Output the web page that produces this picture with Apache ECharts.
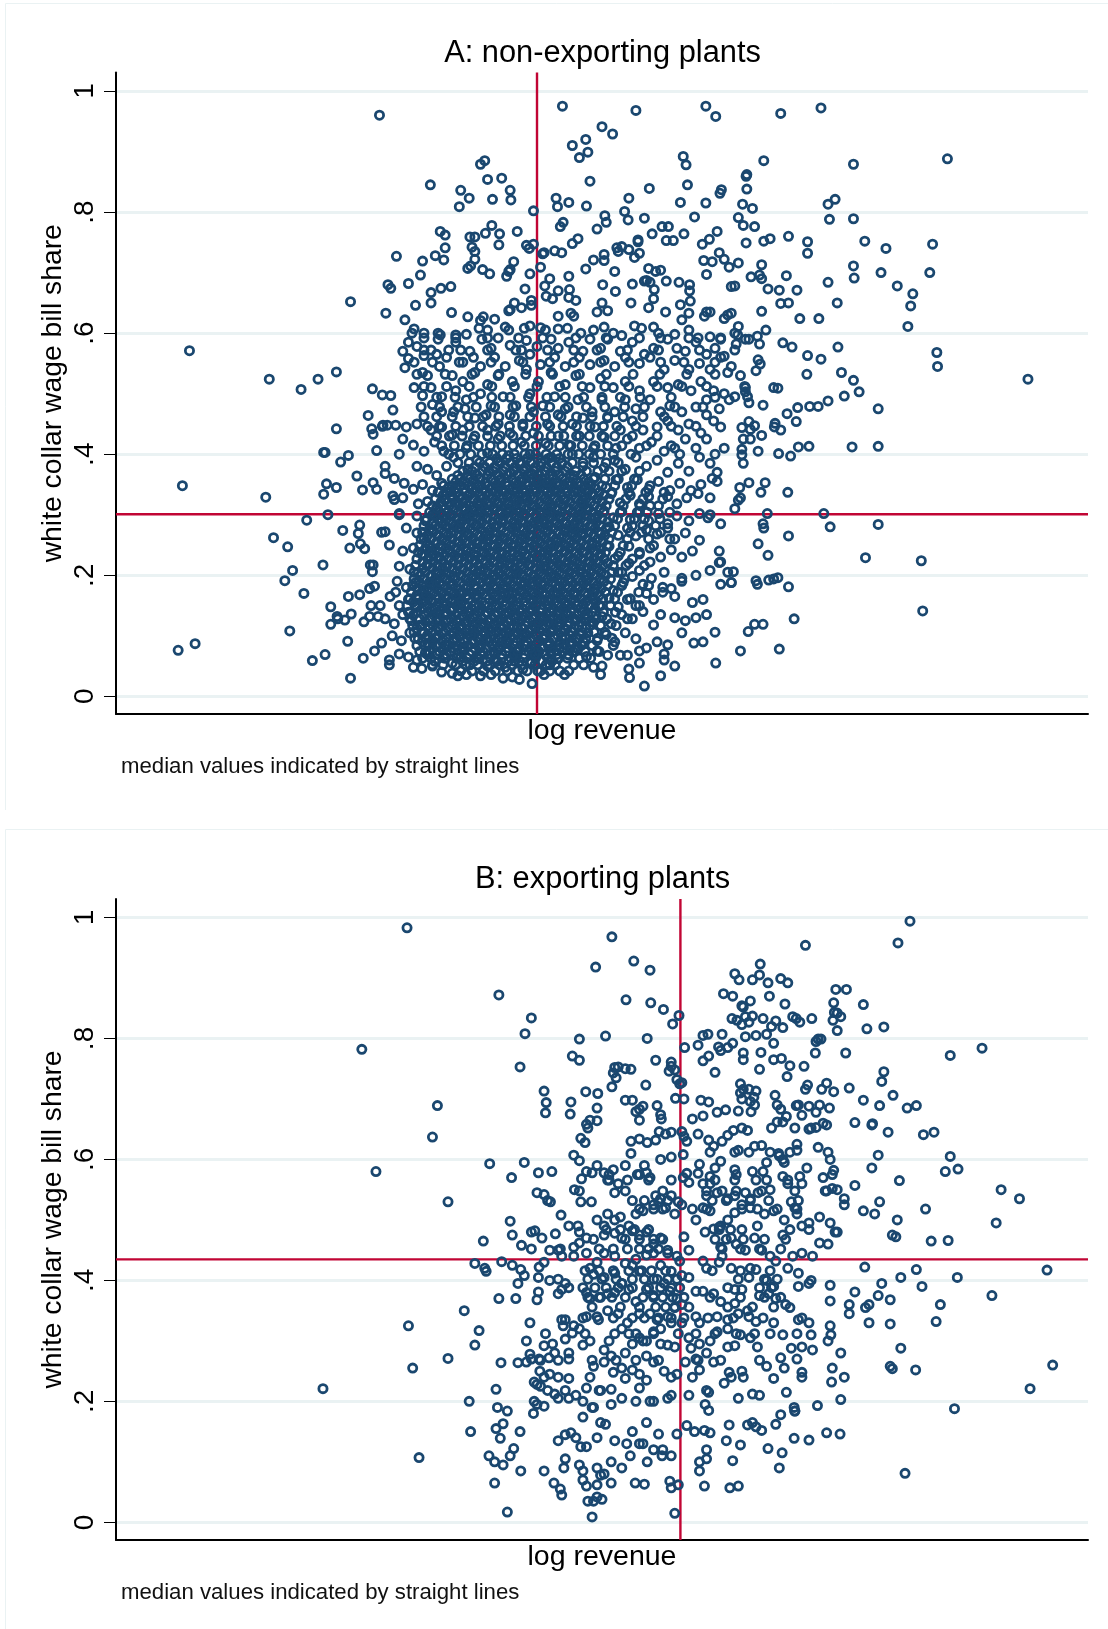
<!DOCTYPE html>
<html><head><meta charset="utf-8">
<script src="https://cdn.jsdelivr.net/npm/echarts@6/dist/echarts.min.js"></script>
<style>html,body{margin:0;padding:0;background:#fff}#c{width:1108px;height:1629px}</style></head>
<body><div id="c"></div>
<script>
// pairs: log revenue x100, white collar share x1000
const plantsA=[
537,960,796,975,900,968,999,975,1013,958,1105,963,1162,972,852,941,867,929,829,920,810,910,832,899,820,890,967,892,971,878,1081,885,1208,879,1341,888,
680,879,686,885,690,854,710,856,835,851,609,845,652,836,664,823,722,836,723,820,697,821,650,809,787,823,789,809,805,816,830,810,755,802,919,839,890,823,973,845,1021,837,1019,831,1057,862,1056,859,1057,838,963,816,999,815,1051,813,1065,806,1172,813,1182,821,884,801,856,794,858,783,889,787,912,790,983,792,1045,791,1052,778,1068,776,1174,788,1208,789,
623,768,630,762,665,759,672,759,687,765,696,778,707,764,732,768,797,783,793,776,845,772,923,764,937,776,946,776,968,764,1015,768,1004,755,943,753,953,753,903,754,903,751,1081,752,1090,756,1116,760,1143,751,1224,752,1254,740,1320,747,1143,732,561,727,630,741,668,742,672,735,706,746,745,745,749,740,755,747,810,748,818,756,875,735,873,741,880,743,890,738,994,747,1056,749,
598,719,616,728,628,721,672,722,727,718,768,731,770,733,785,736,795,733,840,721,855,730,855,720,898,725,905,732,829,706,1018,733,1025,722,1045,716,1032,709,996,720,1008,718,1078,713,1208,711,1247,700,1316,700,1209,691,662,707,666,711,683,705,693,698,720,702,722,705,717,694,765,709,778,690,805,694,750,698,595,696,870,702,918,707,928,702,935,704,1000,697,1075,696,1063,693,1078,690,1113,695,1172,684,1270,678,
578,682,549,680,553,674,610,667,624,674,638,677,743,673,771,678,790,670,806,672,853,680,871,669,895,681,915,687,920,684,912,686,926,672,943,686,961,684,976,680,976,670,1035,677,1040,678,1087,673,1103,671,1128,671,1292,665,1289,645,1185,650,1105,649,1116,650,1078,636,
496,652,546,633,610,650,588,646,639,634,573,622,662,627,680,621,684,627,700,623,722,639,728,650,720,637,738,642,752,654,752,646,773,661,782,657,805,659,815,654,790,628,808,633,812,628,845,635,852,650,860,637,893,650,925,657,918,642,942,635,963,647,975,633,977,653,965,622,1000,635,1005,635,997,628,1025,624,1030,630,1035,633,1045,611,1132,624,1159,624,1285,611,
586,607,583,600,600,600,620,600,623,597,645,597,660,598,678,608,690,605,715,610,720,605,742,608,750,612,765,609,772,605,790,607,803,608,822,600,840,605,855,610,868,600,880,596,898,612,908,608,925,610,932,600,955,598,975,605,988,592,1005,594,1020,590,1040,600,1044,597,1055,590,
578,585,590,578,600,572,620,590,635,572,645,585,665,570,682,590,695,575,705,592,722,580,730,572,745,588,760,578,780,590,790,575,805,585,825,570,835,590,850,575,860,590,878,570,895,585,912,565,925,575,945,590,958,575,970,570,985,585,1000,565,1012,575,1025,562,1042,582,1060,590,
570,570,578,558,600,563,618,565,632,560,650,552,670,560,680,545,700,560,715,545,735,555,750,565,765,548,785,560,800,545,820,560,835,548,855,555,870,545,885,560,905,550,920,560,940,540,955,555,975,540,990,550,1005,540,1020,560,1035,545,1048,530,1030,535,
573,543,598,535,605,530,622,545,640,530,655,520,672,535,690,515,705,530,725,520,745,540,762,520,780,535,800,515,815,530,835,510,850,525,868,510,885,520,905,505,925,520,945,510,960,515,978,505,992,520,1010,505,1025,500,1040,495,1055,510,1060,485,1058,495,
586,510,598,497,610,510,625,495,645,505,660,490,680,500,695,480,712,495,730,480,750,500,768,480,785,495,800,475,818,490,838,470,852,490,870,470,885,490,900,475,920,490,935,470,948,480,965,470,985,478,1000,490,1018,475,1032,490,
612,482,625,470,642,470,658,475,672,460,688,465,705,450,722,465,740,450,755,470,775,450,790,465,810,450,825,460,842,445,860,460,878,440,895,455,910,440,930,445,945,455,960,440,975,450,992,435,1010,455,1000,465,1020,445,
560,448,575,445,590,450,610,440,625,445,640,432,655,440,670,425,690,440,705,425,722,435,738,420,755,435,772,418,790,430,805,415,820,430,840,410,855,428,872,410,888,425,905,410,922,420,940,405,955,410,970,425,985,410,1000,425,1012,400,1025,410,548,448,542,448,
570,425,585,415,600,405,615,420,628,405,642,395,660,410,675,390,690,402,705,388,720,398,735,385,750,400,765,380,780,395,795,385,810,400,825,380,840,395,855,378,870,390,885,375,900,395,915,380,930,390,945,370,960,385,975,372,990,395,1005,385,1015,370,
565,400,590,380,605,375,618,365,632,380,648,365,662,375,678,360,692,372,708,358,722,370,738,355,752,368,768,352,782,365,798,350,812,365,828,348,842,362,858,345,872,358,888,345,902,358,918,342,932,355,948,340,962,352,978,340,992,350,1008,360,1015,355,
545,368,558,360,572,352,585,342,598,350,612,340,625,352,638,338,652,348,665,335,678,348,692,332,705,345,718,330,732,342,745,328,758,342,772,328,785,340,798,325,812,338,825,324,838,335,852,322,865,335,878,320,892,332,905,318,918,330,932,315,945,330,958,318,972,328,988,335,1005,328,
558,325,570,328,592,318,605,322,618,312,630,324,642,310,655,320,668,308,680,320,692,305,705,318,718,304,730,316,742,302,755,315,768,300,780,312,792,298,805,310,818,296,830,308,842,295,855,306,868,295,880,305,892,292,905,305,918,290,932,302,945,285,958,298,975,290,990,302,1002,295,1020,285,1005,300,
565,300,590,298,602,290,612,300,625,288,638,298,650,285,662,296,675,283,688,294,700,280,712,292,725,278,738,290,750,276,762,288,775,274,788,286,800,272,812,284,825,270,838,282,850,268,862,280,875,266,888,278,900,265,915,275,930,268,945,278,955,260,970,270,
575,278,590,270,600,262,612,275,625,258,638,270,650,255,662,268,675,252,688,265,700,250,712,262,725,248,738,260,750,245,762,258,775,242,788,255,800,240,812,252,825,238,838,250,850,235,862,248,875,232,890,248,905,235,920,245,935,230,950,242,965,230,980,240,990,258,1018,240,
570,240,585,245,597,235,610,245,622,230,635,242,648,228,660,240,672,225,685,238,698,222,710,235,722,220,735,232,748,218,760,230,772,215,785,228,798,212,810,225,822,210,835,222,848,208,860,220,875,205,890,220,905,208,920,222,940,205,965,195,1005,208,1020,222,
565,215,580,210,592,205,605,218,618,202,630,214,642,198,655,210,668,195,680,208,692,192,705,205,718,190,730,202,742,188,755,200,768,185,780,198,792,182,805,195,818,180,830,192,842,178,855,190,868,175,882,188,895,198,910,185,922,195,938,180,950,178,965,190,985,200,1020,185,1035,188,
562,190,575,180,588,188,600,175,612,186,625,172,638,184,650,170,662,182,675,168,688,180,700,165,712,178,725,162,738,175,750,160,762,172,775,158,788,170,800,155,812,168,825,152,838,165,850,150,862,162,875,148,888,160,900,150,915,170,925,160,938,172,955,165,980,155,995,160,
552,165,565,150,578,160,590,148,602,158,615,145,628,155,640,142,652,152,665,140,678,150,690,138,702,148,715,135,728,145,740,132,752,142,765,130,778,140,790,128,802,138,815,125,828,135,840,122,852,132,865,120,880,135,895,128,910,140,925,118,935,135,955,130,970,125,985,130,1000,135,
545,128,558,120,570,135,582,125,595,118,608,128,620,115,632,125,645,112,658,122,670,110,682,120,695,107,708,117,720,105,732,115,745,102,758,112,770,100,782,110,795,98,808,108,820,95,832,105,845,92,858,102,870,90,885,105,900,95,915,80,930,90,945,85,965,105,982,88,995,90,
555,100,568,92,580,105,592,95,605,88,618,98,630,85,642,95,655,82,668,92,680,80,692,90,705,78,718,88,730,75,742,85,755,72,768,82,780,70,792,80,805,68,818,78,830,66,845,75,860,68,878,68,888,68,905,75,940,70,955,50,
565,70,578,65,590,60,602,72,615,58,628,68,640,55,652,65,665,52,678,62,690,50,702,60,715,48,728,58,740,45,752,55,765,42,778,52,790,62,805,42,840,48,852,50,
585,48,597,46,612,50,625,40,640,38,648,34,660,36,680,34,695,36,712,30,725,32,735,28,753,21,770,36,799,36,891,31,850,36,935,34,912,17,905,55,890,45,940,60,
1326,568,1327,545,1455,524,1108,584,1121,577,1143,563,1162,557,1186,577,1142,532,1191,535,1208,522,1195,496,1216,503,1172,488,1158,479,1146,479,1129,477,1243,475,1114,467,1080,481,1095,510,1101,509,1054,512,1055,503,1070,538,1073,556,1076,549,1075,582,1072,595,1084,605,1206,412,1243,413,1145,413,1130,412,1119,397,1102,401,1127,454,1097,451,1105,440,1096,445,1078,431,1060,454,1068,447,1062,441,1050,444,1052,425,1062,425,1073,405,1050,408,1050,399,1052,385,1060,353,1083,353,1047,345,1077,337,1115,337,1048,328,1045,324,1040,310,1086,302,1166,302,1175,280,1243,284,1080,285,1081,278,1116,265,1073,252,1087,233,1225,229,1304,224,1306,141,1124,128,1116,181,1070,191,1072,185,1088,192,1095,194,1101,196,1059,107,1068,119,1080,119,1103,78,1048,75,1013,55,1012,106,1018,221,1030,205,1038,206,1035,188,
268,571,381,524,426,507,450,524,476,536,527,508,541,498,553,497,521,464,556,473,476,442,526,442,528,433,541,446,458,403,460,403,493,398,482,387,533,406,545,380,505,364,462,351,476,345,528,353,513,341,533,342,458,334,258,348,376,329,556,331,434,291,464,300,565,302,485,274,509,283,507,269,387,262,407,247,495,245,510,252,516,244,540,271,545,272,551,250,457,217,414,208,403,191,524,217,528,217,527,206,430,170,468,148,493,165,509,168,523,178,530,182,525,150,538,150,560,172,477,132,468,119,478,128,488,126,497,136,515,123,523,132,535,132,410,108,252,76,276,87,492,91,442,59,460,69,496,30,514,63,530,75,540,88,551,52,551,60,
640,330,660,300,700,310,730,280,770,290,800,285,745,330,710,220,740,240,770,210,690,190,720,170,760,190,790,170,670,130,700,120,730,130,760,120,790,140,650,100,680,95,710,90,740,100,770,95,800,110,640,210,660,240,650,280,690,260,720,310,750,265,780,250,810,270,640,160,830,200,840,240,820,300,760,360,780,345,740,375,710,340,680,310,700,200,730,210,760,160,780,120,700,70,730,65,760,75,800,85,620,130,615,190,610,240,
];
// extra marks of panel A in the solid and busy parts, one row per share x1000: [share, revenue x100 ...]
const rowsA=[
[42,652,668,684,701,718,733,746,761,778,792],
[52,612,627,645,659,676,693,707,724,739,757,773,786,812,826],
[63,598,610,629,646,661,675,694,710,723,741,758,775,789,803,820,836],
[74,594,608,622,637,653,668,684,699,716,733,748,763,779,796,811,828,848],
[84,590,606,619,635,648,663,679,697,711,727,744,758,776,790,807,823,838,868],
[96,587,602,616,631,646,661,676,689,706,722,737,751,768,784,800,815,829,846,866],
[106,586,600,612,628,642,658,672,687,702,716,733,749,763,779,794,810,824,841,856],
[117,584,597,613,626,640,653,669,684,699,713,727,743,757,773,789,803,819,835,850,872],
[128,580,594,608,622,638,651,665,681,695,710,723,738,754,769,783,798,813,829,844,859,888],
[139,578,591,606,619,632,648,662,677,690,705,720,735,749,764,779,793,808,824,838,854,871],
[150,576,589,604,618,631,646,659,672,686,701,716,731,745,759,775,790,804,818,834,848,864,905],
[161,580,592,606,621,634,649,663,676,692,706,720,734,750,765,779,794,808,823,839,853,870,892],
[172,582,597,610,624,638,653,667,680,695,709,725,739,753,768,783,797,812,827,841,857,874,904],
[183,584,598,613,627,641,656,671,684,698,713,727,742,756,771,786,800,815,830,845,860,880,918],
[194,586,600,616,630,644,659,673,688,702,716,731,745,760,775,789,804,818,833,849,864,884],
[205,586,602,617,632,646,661,676,690,705,719,733,748,763,777,792,806,821,836,851,866,880],
[216,588,604,619,633,648,663,677,692,707,721,736,750,765,780,794,809,823,838,853,868,886,912],
[227,590,606,620,635,650,664,679,694,708,723,737,752,767,781,796,811,825,840,855,870,895],
[238,592,607,622,637,651,666,681,695,710,725,739,754,769,783,798,813,827,842,857,878,905],
[249,594,608,624,638,653,668,682,697,712,727,741,756,770,785,800,815,829,844,859,882,925],
[260,596,610,626,640,655,669,684,699,714,728,743,758,772,787,802,816,831,846,862,888,918,948],
[271,598,613,628,642,657,671,686,701,716,730,745,760,774,789,804,818,833,848,866,892,908,935],
[282,600,616,630,644,659,673,688,703,718,732,747,762,776,791,806,820,835,850,870,895,910,928],
[293,604,619,632,646,661,675,690,705,720,734,749,764,778,793,808,822,837,852,874,898,912,934],
[304,608,622,634,648,663,677,692,707,722,736,751,766,780,795,810,824,839,854,878,902,916,948],
[315,612,626,636,650,665,680,694,709,724,738,753,768,782,797,812,826,841,858,882,906,920],
[326,616,629,640,654,669,683,697,712,727,741,756,771,785,800,815,829,845,862,886,910,938],
[337,620,632,645,658,672,687,701,715,730,744,759,774,788,803,818,832,848,866,890,914,940],
[348,628,640,651,663,676,691,705,719,734,748,763,778,792,807,822,836,852,870,894,920],
[359,640,651,665,680,695,709,724,738,752,767,782,796,811,826,840,856,875,898],
[372,655,668,683,698,712,727,742,756,771,786,800,815,830,846,862,880,905],
[386,648,664,679,693,708,722,737,751,766,780,795,810,825,840,858,875],
[400,635,651,666,682,697,711,728,743,758,773,788,804,819,834,850,868,893,962],
[414,625,643,661,677,694,710,726,742,759,776,792,808,824,842,860,880,915,950],
[430,618,636,654,672,690,708,726,744,762,780,798,816,834,852,870,895,930],
[446,605,622,645,664,683,702,721,740,759,778,797,816,835,854,873,900,950,985],
[462,600,618,640,662,684,706,728,750,772,794,816,838,860,882,910,940],
[478,596,622,648,674,700,726,752,778,804,830,856,884,912,955,995],
[494,618,644,670,696,722,748,774,800,826,852,878,906,950,1012],
[512,600,632,664,696,728,760,792,824,856,890,930,965,1000],
[532,590,630,668,706,744,782,820,858,896,934,972,1012],
[552,586,612,655,695,740,778,812,850,890,935,968,1012],
[572,610,652,690,738,775,812,845,888,932,990,1040],
[592,600,645,690,734,768,815,858,905,935,975,1020],
[58,655,671,689,704,720,735,751,767,781],
[69,605,617,632,648,664,680,694,710,727,742,757,772,788,804],
[80,612,628,642,657,672,688,705,719,735,751,766,782,798,815],
[90,598,612,626,642,657,670,684,701,716,731,746,762,777,792,808,826],
[101,605,621,637,653,667,682,696,712,727,743,758,772,789,806,821],
[112,590,607,620,634,650,664,678,693,708,722,738,752,767,783,798,813,829],
[123,602,618,632,646,660,675,690,704,718,733,747,762,776,792,806,822,837],
[134,585,600,614,628,644,656,671,686,700,714,728,744,758,773,788,802,818,832],
[145,597,611,626,639,653,667,681,695,710,724,739,753,767,783,797,811,826,842],
[156,585,598,612,627,640,654,668,682,698,712,726,741,755,770,785,799,814,829,843],
[167,590,603,617,631,645,660,673,688,701,715,730,745,759,773,788,803,817,832,848],
[178,591,605,619,633,647,661,675,689,703,718,733,747,762,776,791,805,820,835,851],
[189,593,608,622,636,651,665,679,694,708,722,737,752,766,781,795,809,825,840],
[200,595,610,624,638,653,668,682,697,711,725,740,755,769,784,798,813,828,843,857],
[211,598,612,626,641,655,670,685,698,713,728,742,757,771,786,801,815,830,845],
[222,598,613,627,642,657,671,686,700,715,729,744,759,773,788,803,817,832,847],
[233,600,614,629,644,658,673,688,702,717,732,746,761,775,790,805,819,834,849],
[244,602,616,631,645,660,675,689,704,719,733,748,762,777,792,806,821,836,851],
[255,603,618,632,647,662,676,691,706,720,735,750,765,779,794,808,823,838,853],
[266,605,620,634,649,664,678,693,708,723,737,752,767,781,796,811,825,840,856],
[277,608,622,636,651,666,680,695,710,725,739,754,769,783,798,813,827,842,858],
[288,612,624,638,653,668,682,697,712,727,741,756,771,785,800,815,829,844,860],
[299,615,627,640,655,670,684,699,714,729,743,758,773,787,802,817,831,846],
[310,619,630,643,657,672,687,701,716,731,745,760,775,789,804,819,833,849],
[321,624,634,647,660,676,690,704,719,733,748,763,777,792,807,822,836,852],
[332,627,638,650,664,679,693,707,722,736,751,766,780,795,810,825,840,855],
[343,634,646,657,669,683,697,711,726,740,755,770,784,799,814,829,843],
[354,645,658,672,687,701,716,730,745,760,774,789,804,818,833],
[366,662,675,690,705,719,734,749,763,778,792,807,822],
[379,672,686,700,715,729,744,758,773,788,803],
[393,703,717,731,746,761,776,792],
];
const plantsB=[
576,983,866,968,1288,994,1271,958,1140,954,897,928,843,918,920,913,1076,923,1040,907,1046,897,1075,905,1065,897,1087,892,1105,899,1115,892,706,872,886,864,921,859,939,848,1024,874,1037,870,1062,862,1089,870,1050,854,1052,852,1111,857,1183,881,1198,881,1180,859,1222,856,752,834,961,838,952,824,1036,833,1055,836,1065,837,1043,830,1050,823,1060,827,1080,833,1098,829,1092,820,1108,818,1122,836,1127,833,1132,827,1149,833,1185,842,1181,843,1190,836,1179,830,1185,813,1227,816,1251,819,743,808,857,804,916,800,820,799,995,805,1002,807,1022,807,1037,792,1030,785,1017,786,1020,780,988,789,1055,803,1070,805,1085,807,1095,792,1158,799,1162,799,1155,795,1154,776,1197,776,969,785,
810,771,820,764,736,753,928,764,950,761,950,754,947,746,955,748,1003,771,995,763,1012,744,1052,776,1052,765,1077,777,1095,765,1106,767,1075,749,1118,755,1138,754,1114,737,1251,745,1248,729,1345,772,1390,784,512,782,
870,752,868,743,875,753,885,750,893,749,872,735,866,720,914,723,958,732,962,725,965,727,1048,725,1052,716,1048,710,1060,716,1070,713,1067,703,1050,700,1062,696,1097,706,1143,723,1140,716,1163,716,1170,726,1180,712,1202,718,1222,698,1245,689,1264,706,1284,685,1297,689,
770,713,773,694,772,677,808,695,807,675,829,712,846,709,845,685,885,698,895,698,900,679,905,683,910,688,930,689,935,674,936,667,905,665,956,701,968,700,992,698,1003,695,980,667,995,672,1015,678,1027,682,1045,680,1063,679,1105,683,1127,689,1145,688,1135,673,1113,671,1108,662,1100,662,1155,678,1170,657,1174,685,619,689,612,637,1210,661,1235,659,1234,657,1257,645,1307,641,1322,645,
835,665,830,658,845,664,832,652,822,635,828,628,893,630,905,634,916,628,928,632,933,646,942,642,950,645,965,646,968,638,972,630,988,642,1003,632,1010,622,1022,630,1030,640,1038,648,1058,648,1045,615,1068,622,1078,623,1102,610,1108,600,1128,625,1128,615,1145,650,1155,653,1165,660,1158,620,1172,612,1175,600,1243,607,1345,605,
693,593,742,595,812,607,820,598,830,580,845,590,838,578,855,578,868,583,862,575,885,590,893,610,912,590,905,575,915,578,935,600,950,604,967,608,972,577,990,592,988,577,1005,572,1012,586,1020,597,1040,583,1042,575,1065,580,1080,580,1085,595,1103,606,1110,595,1108,572,1132,572,1142,586,1165,570,1178,575,1180,582,1234,586,1338,580,1356,584,
724,570,762,578,781,580,532,580,634,530,760,545,770,542,775,532,779,530,813,550,820,548,822,530,837,530,823,568,862,566,875,560,870,545,885,548,902,575,920,570,928,540,935,535,950,540,960,530,967,570,975,562,995,560,1005,560,1000,540,1015,545,1030,535,1040,540,1055,545,1062,535,1073,545,1090,550,1115,560,1120,530,1135,560,1170,548,1178,552,1185,550,1195,535,1210,557,1273,565,1417,550,1443,535,1310,518,
794,508,805,490,818,490,820,480,830,470,845,500,855,490,860,510,870,500,878,505,890,490,900,510,910,515,925,525,932,530,942,520,955,510,965,525,980,518,985,500,995,520,1005,515,1020,490,1030,500,1040,512,1050,525,1062,520,1072,490,1082,510,1095,515,1110,500,1125,520,1128,510,1135,490,1145,495,1160,505,1175,495,1185,480,1195,525,1222,515,1238,510,1245,530,1270,500,1410,495,
722,498,725,475,752,480,757,482,767,470,786,477,790,450,738,458,752,452,778,450,793,452,812,455,820,462,855,475,870,478,880,470,895,482,905,475,915,480,925,460,935,470,945,450,968,472,975,450,998,480,1010,485,1018,488,1020,455,1035,470,1042,460,1055,450,1068,470,1078,450,1090,440,1108,475,1122,440,1135,445,1150,440,1160,462,1172,460,1182,480,1263,475,1268,472,1318,465,1342,466,
684,465,672,428,686,420,688,415,710,431,725,425,737,418,742,408,763,422,770,430,795,440,812,440,830,445,845,430,855,445,870,440,885,428,900,435,915,442,925,445,945,445,958,440,962,432,995,432,1000,420,1018,430,1022,440,1035,420,1062,420,1070,418,1098,432,1115,420,1130,412,1148,400,1224,422,1248,395,1275,405,1297,418,1305,390,1355,405,1482,417,
733,395,762,405,778,400,790,402,800,395,805,388,835,420,840,410,855,405,870,412,880,395,895,425,905,415,925,402,935,425,950,415,965,408,975,405,1040,385,1050,385,1060,405,1085,400,1095,390,1130,390,1145,395,1175,392,1210,381,1230,360,
706,370,730,370,762,381,760,368,795,385,790,378,830,380,835,370,850,372,860,378,870,380,880,395,890,385,900,365,915,385,925,375,940,395,948,382,958,370,965,360,985,382,995,382,1010,378,1020,365,1040,362,1058,350,1075,375,1088,378,1098,370,1112,360,1118,355,1135,338,1175,366,1202,360,1225,355,1243,375,1260,368,1331,360,1404,375,
657,350,750,330,795,335,800,335,812,325,830,340,845,340,860,350,875,345,888,330,905,345,920,345,930,335,945,340,955,355,965,330,985,340,990,330,1015,340,1030,335,1045,345,1060,340,1070,332,1095,330,1130,335,1145,330,1175,325,1202,345,1230,330,1260,328,1325,332,
578,325,678,317,672,293,797,325,810,313,820,320,835,300,847,335,862,300,880,320,890,312,905,305,915,300,925,315,935,320,950,330,975,305,990,295,1005,300,1015,315,1030,320,1048,310,1062,305,1090,312,1108,310,1128,312,1148,310,1172,300,1176,310,
745,300,750,278,763,270,770,292,782,295,785,280,800,303,805,280,825,293,855,285,865,275,885,280,895,295,910,300,935,295,945,293,955,290,978,288,1000,280,1030,290,1040,292,1072,290,1105,272,1120,288,1135,290,1150,285,1190,280,1275,288,
584,255,634,271,709,264,733,264,745,265,752,270,777,272,805,270,840,258,855,265,880,255,895,252,915,275,925,265,940,250,958,245,970,265,985,270,990,252,1010,265,1032,248,1050,250,1085,258,1110,255,1128,270,1135,248,1178,255,1260,258,1263,254,1296,252,
764,250,770,240,778,245,790,240,805,238,835,240,850,218,868,248,885,238,905,245,915,235,950,240,980,240,1000,218,1025,230,1035,240,1052,240,1095,238,1135,240,1195,240,1177,232,1490,260,
457,221,702,220,756,232,760,228,765,225,775,218,785,212,800,218,815,210,830,222,848,218,865,220,905,222,925,200,945,205,975,210,1003,215,1045,205,1065,212,1075,210,1113,215,1190,203,1458,221,
664,200,704,190,718,184,756,200,760,195,770,192,790,205,805,205,825,200,840,190,865,195,880,205,900,200,920,200,950,210,998,195,1003,185,1157,193,1125,184,1105,178,1351,188,
755,180,825,174,838,190,850,165,857,162,895,150,915,165,932,146,958,146,972,160,983,150,997,152,1005,148,1032,161,1058,161,1065,165,1070,158,1078,152,1098,162,1124,190,1125,184,
666,150,702,155,712,163,708,139,736,150,790,135,800,145,808,148,815,140,822,125,830,125,845,140,870,135,887,130,905,130,910,130,938,120,950,110,1028,135,1048,128,1087,122,1107,115,1124,139,1145,136,1170,148,1189,146,
593,107,692,110,700,100,712,95,722,110,727,122,737,85,770,85,800,105,798,90,820,95,825,85,845,90,855,80,850,78,865,100,880,90,892,110,916,100,925,120,937,110,990,100,1000,105,1000,120,1037,102,990,85,1103,90,1281,81,
700,65,784,65,793,55,795,45,825,70,830,60,845,62,865,65,899,65,912,63,948,68,950,57,960,62,997,60,1033,57,1045,60,
718,17,832,35,840,35,852,38,845,42,838,9,955,15,
];
// extra marks of panel B in the busier parts: [share, revenue x100 ...]
const rowsB=[
[268,765,790,838,872,900,932,988,1020,1075],
[312,772,828,870,900,925,960,985,1012,1042,1068],
[338,825,868,895,912,932,950,968,1002,1038,1080],
[356,838,878,905,928,942,955,975,1030,1065,1095],
[372,832,848,866,885,910,925,938,952,968,1005,1048,1082,1105],
[388,825,842,858,875,895,918,935,950,962,1030,1075,1092],
[402,832,852,872,895,912,930,945,958,1045,1082,1100],
[416,828,848,868,890,908,922,942,1008,1048,1090],
[452,848,868,888,905,918,932,1022,1048,1075,1105],
[468,840,885,905,925,938,1012,1028,1052,1082,1112],
[484,858,878,898,918,1018,1034,1050,1118,1145],
[518,905,925,938,1000,1050,1072,1100,1128],
[532,895,912,945,1008,1028,1062,1088,1130],
[548,938,1000,1022,1042,1078,1125,1168],
[566,860,888,918,950,1012,1040,1070,1085,1115],
[612,1005,1040,1060,1090,1118],
[652,1050,1092,1125,1148],
[690,1068,1100,1130,1160],
];
const medianXA=[7.60], medianYA=[0.3007], medianXB=[9.63], medianYB=[0.4348];
const yTicks=[0,0.2,0.4,0.6,0.8,1];
const tickLabels=['0','.2','.4','.6','.8','1'];
const xRange=[1.64,15.40], yRange=[-0.0292,1.0306];
const titles=['A: non-exporting plants','B: exporting plants'];
const FONT='"Liberation Sans",Arial,sans-serif';
const NAVY='#1a476f', RED='#c10534', PALE='#eaf2f3';
function toPairs(flat,rows){const r=[];for(let i=0;i+1<flat.length;i+=2)r.push([flat[i]/100,flat[i+1]/1000]);
 rows.forEach(row=>{for(let j=1;j<row.length;j++)r.push([row[j]/100,row[0]/1000]);});return r;}
function xAx(i){return {gridIndex:i,type:'value',min:xRange[0],max:xRange[1],name:'log revenue',nameLocation:'middle',nameGap:17,
 nameTextStyle:{fontFamily:FONT,fontSize:28.5,color:'#000',verticalAlign:'middle'},
 axisLine:{onZero:false,lineStyle:{color:'#000',width:2}},axisTick:{show:false},axisLabel:{show:false},splitLine:{show:false}};}
function yAx(i){return {gridIndex:i,type:'value',min:yRange[0],max:yRange[1],name:'white collar wage bill share',nameLocation:'middle',nameRotate:90,nameGap:49,nameMoveOverlap:false,
 nameTextStyle:{fontFamily:FONT,fontSize:28.3,color:'#000'},
 axisLine:{onZero:false,lineStyle:{color:'#000',width:2}},
 axisTick:{length:12,customValues:yTicks,lineStyle:{color:'#000',width:1}},
 axisLabel:{rotate:90,margin:17,fontFamily:FONT,fontSize:28,color:'#000',customValues:yTicks,
   formatter:v=>tickLabels[yTicks.findIndex(t=>Math.abs(t-v)<1e-6)]},
 splitLine:{show:true,lineStyle:{color:PALE,width:3}}};}
function pts(i,d,rows){return {type:'scatter',xAxisIndex:i,yAxisIndex:i,data:toPairs(d,rows),symbol:'circle',symbolSize:8.2,z:3,silent:true,
 itemStyle:{color:'rgba(0,0,0,0)',borderColor:NAVY,borderWidth:2.8,opacity:1}};}
function ln(i,d){return {type:'line',xAxisIndex:i,yAxisIndex:i,data:d,showSymbol:false,z:2,silent:true,lineStyle:{color:RED,width:2.4}};}
const chart=echarts.init(document.getElementById('c'),null,{renderer:'canvas'});
chart.setOption({animation:false,backgroundColor:'#fff',
 title:[{text:titles[0],left:597.5,top:33.5,textAlign:'center',textStyle:{fontFamily:FONT,fontWeight:'normal',fontSize:30.8,color:'#000'}},
        {text:titles[1],left:597.5,top:859.5,textAlign:'center',textStyle:{fontFamily:FONT,fontWeight:'normal',fontSize:30.8,color:'#000'}}],
 grid:[{left:116,width:972,top:72.5,height:641.5},{left:116,width:972,top:899,height:641}],
 xAxis:[xAx(0),xAx(1)],yAxis:[yAx(0),yAx(1)],
 series:[ln(0,[[medianXA[0],yRange[0]],[medianXA[0],yRange[1]]]),ln(0,[[xRange[0],medianYA[0]],[xRange[1],medianYA[0]]]),pts(0,plantsA,rowsA),
         ln(1,[[medianXB[0],yRange[0]],[medianXB[0],yRange[1]]]),ln(1,[[xRange[0],medianYB[0]],[xRange[1],medianYB[0]]]),pts(1,plantsB,rowsB)],
 graphic:[
  {type:'text',left:121,top:755.5,style:{text:'median values indicated by straight lines',font:'22.2px '+FONT,fill:'#111'}},
  {type:'text',left:121,top:1581.5,style:{text:'median values indicated by straight lines',font:'22.2px '+FONT,fill:'#111'}},
  {type:'line',shape:{x1:5.5,y1:3.5,x2:1108,y2:3.5},style:{stroke:PALE,lineWidth:1}},
  {type:'line',shape:{x1:5.5,y1:3.5,x2:5.5,y2:810},style:{stroke:PALE,lineWidth:1}},
  {type:'line',shape:{x1:5.5,y1:829.5,x2:1108,y2:829.5},style:{stroke:PALE,lineWidth:1}},
  {type:'line',shape:{x1:5.5,y1:829.5,x2:5.5,y2:1629},style:{stroke:PALE,lineWidth:1}}
 ]});
</script></body></html>
